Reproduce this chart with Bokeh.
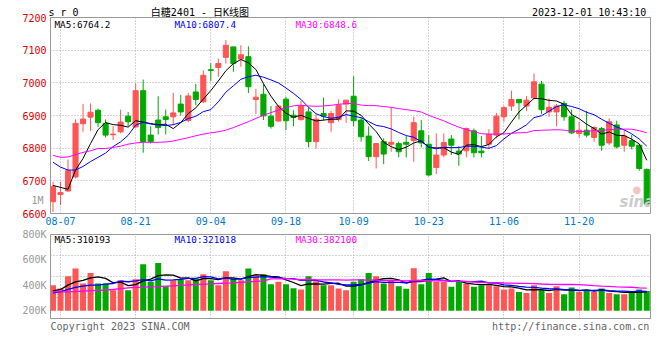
from bokeh.plotting import figure
from bokeh.layouts import column
from bokeh.models import Range1d, FixedTicker, Label, ColumnDataSource, LinearAxis, Title
from bokeh.embed import file_html
from bokeh.resources import INLINE
import numpy as np

# ---------------- data ----------------
opens = [6636, 6658, 6669, 6712, 6875, 6895, 6916, 6876, 6841, 6850,
         6898, 6865, 6976, 6840, 6886, 6896, 6896, 6935, 6885, 6972,
         6942, 7040, 7047, 7078, 7110, 7073, 7080, 6949, 6965, 6898,
         6883, 6950, 6901, 6888, 6911, 6820, 6906, 6878, 6888, 6935,
         6959, 6886, 6837, 6774, 6820, 6812, 6814, 6818, 6823, 6853,
         6812, 6741, 6779, 6828, 6791, 6792, 6853, 6791, 6812, 6840,
         6896, 6929, 6949, 6929, 6954, 6996, 6911, 6911, 6937, 6896,
         6845, 6855, 6833, 6860, 6816, 6871, 6809, 6823, 6809, 6735]
highs = [6697, 6697, 6765, 6888, 6935, 6937, 6921, 6888, 6867, 6918,
         6911, 6998, 7010, 6867, 6959, 6918, 6969, 6963, 6969, 6997,
         7038, 7060, 7074, 7131, 7110, 7115, 7112, 6982, 6998, 6929,
         6932, 6957, 6916, 6945, 6925, 6904, 6955, 6914, 6949, 6947,
         7020, 6894, 6867, 6816, 6830, 6925, 6820, 6837, 6896, 6886,
         6840, 6845, 6845, 6840, 6806, 6863, 6860, 6837, 6858, 6908,
         6929, 6976, 6949, 6959, 7029, 7006, 6952, 6935, 6945, 6918,
         6881, 6914, 6867, 6865, 6891, 6884, 6855, 6840, 6812, 6738]
lows = [6605, 6626, 6666, 6708, 6850, 6853, 6865, 6833, 6825, 6845,
        6867, 6862, 6786, 6814, 6842, 6842, 6870, 6900, 6880, 6931,
        6938, 7006, 7018, 7059, 7034, 7049, 6969, 6904, 6886, 6860,
        6881, 6855, 6867, 6884, 6802, 6799, 6884, 6850, 6881, 6878,
        6867, 6820, 6761, 6738, 6751, 6789, 6772, 6772, 6758, 6802,
        6714, 6721, 6772, 6779, 6746, 6772, 6772, 6772, 6799, 6830,
        6881, 6914, 6888, 6914, 6952, 6904, 6896, 6867, 6884, 6843,
        6833, 6833, 6820, 6792, 6809, 6799, 6789, 6796, 6731, 6626]
closes = [6682, 6664, 6731, 6876, 6889, 6910, 6878, 6840, 6843, 6880,
          6881, 6976, 6820, 6820, 6863, 6888, 6908, 6911, 6960, 6949,
          7023, 7038, 7059, 7115, 7059, 7086, 6988, 6956, 6899, 6867,
          6929, 6884, 6894, 6929, 6820, 6889, 6898, 6906, 6931, 6947,
          6884, 6835, 6774, 6814, 6782, 6818, 6789, 6812, 6878, 6816,
          6718, 6779, 6817, 6809, 6782, 6860, 6786, 6786, 6843, 6898,
          6924, 6949, 6939, 6947, 7003, 6918, 6925, 6929, 6896, 6847,
          6855, 6840, 6863, 6809, 6881, 6804, 6837, 6806, 6738, 6629]
volumes_k = [402, 376, 472, 533, 415, 498, 415, 415, 362, 441,
             362, 449, 567, 428, 577, 394, 441, 446, 441, 454,
             488, 441, 402, 512, 454, 441, 533, 480, 488, 410,
             428, 410, 378, 368, 472, 433, 402, 402, 376, 362,
             428, 449, 498, 472, 415, 441, 394, 373, 535, 410,
             498, 428, 428, 389, 433, 415, 389, 402, 402, 394,
             368, 376, 349, 341, 402, 362, 341, 394, 331, 384,
             349, 362, 349, 376, 341, 331, 331, 357, 368, 357]

# moving-average values before enough history exists
ma5_head = [6686, 6680, 6674, 6733]
ma10_head = [6757, 6742, 6733, 6733, 6744, 6759, 6772, 6785, 6805]
ma30_head = [6778, 6772, 6773, 6780, 6787, 6792, 6799, 6799, 6802, 6806,
             6812, 6816, 6818, 6818, 6818, 6819, 6822, 6827, 6832, 6838,
             6843, 6847, 6850, 6855, 6863, 6872, 6881, 6891, 6901]
vma5_head = [357, 368, 402, 428]
vma10_head = [341, 349, 368, 384, 394, 402, 402, 410, 415]
vma30_head = [349, 349, 350, 352, 355, 358, 361, 364, 368, 374,
              380, 384, 386, 389, 391, 394, 397, 400, 404, 407,
              410, 412, 415, 418, 420, 424, 428, 432, 436]

tick_idx = [1, 11, 21, 31, 40, 50, 60, 70]
tick_lbl = ["08-07", "08-21", "09-04", "09-18", "10-09", "10-23", "11-06", "11-20"]
price_ticks = [6600, 6700, 6800, 6900, 7000, 7100, 7200]
vol_ticks = [200000, 400000, 600000, 800000]
vol_tick_lbl = ["200K", "400K", "600K", "800K"]
vol_over_tick = [1000000]
vol_over_lbl = ["1M"]
vol_base = 200000

title_txt = "白糖2401 - 日K线图"
code_txt = "s r 0"
time_txt = "2023-12-01 10:43:10"
ma_lbl = ["MA5:6764.2", "MA10:6807.4", "MA30:6848.6"]
vma_lbl = ["MA5:310193", "MA10:321018", "MA30:382100"]
copy_txt = "Copyright 2023 SINA.COM"
url_txt = "http://finance.sina.com.cn"

# ---------------- styles ----------------
RED = "#ff5555"
GREEN = "#00a800"
MA_COLORS = ["#000000", "#0000ff", "#ff00ff"]
MONO = "DejaVu Sans Mono"
GRID = "#aaaaaa"
NBSP = "\u00a0"


def moving_avg(vals, n, head):
    out = []
    for i in range(len(vals)):
        if i < len(head):
            out.append(head[i])
        else:
            out.append(sum(vals[i - n + 1:i + 1]) / n)
    return out


n = len(closes)
idx = list(range(n))
colors = [RED if c >= o else GREEN for o, c in zip(opens, closes)]
src = ColumnDataSource(dict(
    x=idx, h=highs, l=lows,
    top=[max(o, c) for o, c in zip(opens, closes)],
    bottom=[min(o, c) for o, c in zip(opens, closes)],
    color=colors,
    vol=[v * 1000 for v in volumes_k],
))

x_range = Range1d(-0.33, 79.5)


def style_axis(ax, color, standoff):
    ax.axis_line_color = None
    ax.major_tick_line_color = None
    ax.minor_tick_line_color = None
    ax.major_tick_out = 0
    ax.major_tick_in = 0
    ax.minor_tick_out = 0
    ax.minor_tick_in = 0
    ax.major_label_text_color = color
    ax.major_label_text_font = MONO
    ax.major_label_text_font_size = "10px"
    ax.major_label_standoff = standoff


def style_grid(p):
    for g in (p.xgrid, p.ygrid):
        g.grid_line_color = GRID
        g.grid_line_dash = "1 2"
        g.grid_line_width = 1
    p.outline_line_color = "#999999"
    p.outline_line_width = 1


def add_label(p, x, y, text, color="#000000", size="10px", align="left",
              font=MONO, style="normal"):
    p.add_layout(Label(x=x, y=y, x_units="screen", y_units="screen", text=text,
                       text_color=color, text_font=font, text_font_size=size,
                       text_align=align, text_baseline="middle",
                       text_font_style=style))


# ---------------- price pane ----------------
header = code_txt + NBSP * 12 + title_txt + NBSP * 47 + time_txt
p1 = figure(width=660, height=227, x_range=x_range, y_range=Range1d(6600, 7200),
            output_backend="svg", toolbar_location=None,
            min_border_left=50, min_border_right=10, min_border_top=17,
            min_border_bottom=14)
p1.title.text = header
p1.title.align = "left"
p1.title.offset = -2
p1.title.standoff = 0
p1.title.text_font = MONO + ", Noto Sans CJK SC"
p1.title.text_font_size = "10px"
p1.title.text_font_style = "normal"
p1.title.text_color = "#000000"

p1.segment(x0="x", y0="l", x1="x", y1="h", line_color="color", line_width=1, source=src)
p1.vbar(x="x", width=0.68, top="top", bottom="bottom", fill_color="color",
        line_color="color", line_width=1, source=src)
for (nn, head), col in zip([(5, ma5_head), (10, ma10_head), (30, ma30_head)], MA_COLORS):
    p1.line(idx, moving_avg(closes, nn, head), line_color=col, line_width=1)

p1.xaxis.ticker = FixedTicker(ticks=tick_idx)
p1.xaxis.major_label_overrides = {t: s for t, s in zip(tick_idx, tick_lbl)}
p1.yaxis.ticker = FixedTicker(ticks=price_ticks)
p1.xgrid.ticker = FixedTicker(ticks=tick_idx)
p1.ygrid.ticker = FixedTicker(ticks=price_ticks)
style_axis(p1.xaxis[0], "#0077cc", 3)
style_axis(p1.yaxis[0], "#e00000", 4)
style_grid(p1)

# the volume scale's "1M" label that Sina draws beside the price pane
p1.extra_y_ranges = {"vol_over": Range1d(911000, 2218000)}
ax_over = LinearAxis(y_range_name="vol_over", ticker=FixedTicker(ticks=vol_over_tick),
                     major_label_overrides={t: s for t, s in zip(vol_over_tick, vol_over_lbl)})
style_axis(ax_over, "#999999", -24)
p1.add_layout(ax_over, "left")

for xx, t, c in zip([4, 124, 245], ma_lbl, MA_COLORS):
    add_label(p1, xx, 189.5, t, color=c, size="9.3px")
add_label(p1, 582, 24, "●", color="#f6c4c4", size="10px", font="DejaVu Sans")
add_label(p1, 569, 12, "sina", color="#cccccc", size="15px", font="DejaVu Sans",
          style="bold italic")

# ---------------- volume pane ----------------
p2 = figure(width=660, height=133, x_range=x_range, y_range=Range1d(140000, 800000),
            output_backend="svg", toolbar_location=None, x_axis_location=None,
            min_border_left=50, min_border_right=10, min_border_top=7,
            min_border_bottom=42)
p2.vbar(x="x", width=0.8, top="vol", bottom=vol_base, fill_color="color",
        line_color=None, source=src)
for (nn, head), col in zip([(5, vma5_head), (10, vma10_head), (30, vma30_head)], MA_COLORS):
    p2.line(idx, [v * 1000 for v in moving_avg(volumes_k, nn, head)],
            line_color=col, line_width=1.3)

p2.yaxis.ticker = FixedTicker(ticks=vol_ticks)
p2.yaxis.major_label_overrides = {t: s for t, s in zip(vol_ticks, vol_tick_lbl)}
style_axis(p2.yaxis[0], "#999999", 4)
p2.xgrid.ticker = FixedTicker(ticks=tick_idx)
vr = p2.y_range
p2.ygrid.ticker = FixedTicker(ticks=list(np.linspace(vr.start, vr.end, 5)[1:-1]))
style_grid(p2)

for xx, t, c in zip([4, 124, 245], vma_lbl, MA_COLORS):
    add_label(p2, xx, 79, t, color=c, size="9.3px")
footer = copy_txt + NBSP * 50 + url_txt
p2.add_layout(Title(text=footer, align="left", offset=0, standoff=0,
                    text_font=MONO, text_font_size="10.05px",
                    text_font_style="normal", text_color="#666666"), "below")

layout = column(p1, p2, spacing=0)
open("out.html", "w").write(file_html(layout, INLINE))
